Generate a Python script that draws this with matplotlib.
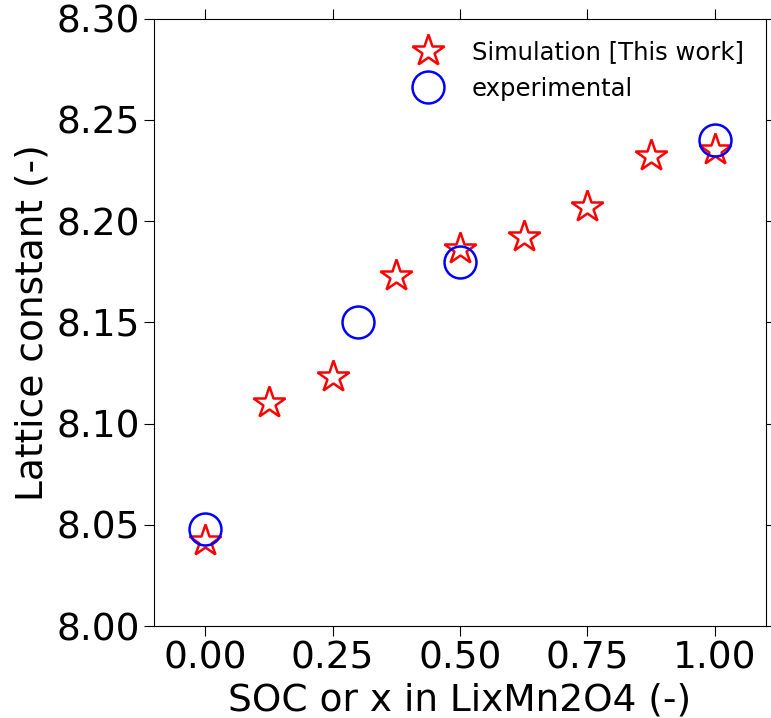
import numpy as np
import matplotlib
matplotlib.use("Agg")
from matplotlib import pyplot as plt

# simulation results
sim_x = [0.0, 0.125, 0.25, 0.375, 0.5, 0.625, 0.75, 0.875, 1.0]
sim_a = [8.042, 8.110, 8.123, 8.173, 8.186, 8.192, 8.207, 8.232, 8.235]
# experimental values
exp_x = [0.0, 0.3, 0.5, 1.0]
exp_a = [8.048, 8.150, 8.180, 8.240]

xticks = [0.0, 0.25, 0.5, 0.75, 1.0]
yticks = [8.00, 8.05, 8.10, 8.15, 8.20, 8.25, 8.30]

fig = plt.figure(figsize=(7.71, 7.18), dpi=100)
ax = fig.add_axes([0.2, 0.128, 0.793, 0.846])

ax.plot(sim_x, sim_a, linestyle='none', marker='*', markersize=24,
        markerfacecolor='none', markeredgecolor='red', markeredgewidth=1.8,
        label='Simulation [This work]')
ax.plot(exp_x, exp_a, linestyle='none', marker='o', markersize=23,
        markerfacecolor='none', markeredgecolor='blue', markeredgewidth=1.8,
        label='experimental')

ax.set_xlim(-0.1, 1.1)
ax.set_ylim(8.0, 8.3)
ax.set_xticks(xticks)
ax.set_yticks(yticks)
ax.xaxis.set_major_formatter(matplotlib.ticker.FormatStrFormatter('%.2f'))
ax.yaxis.set_major_formatter(matplotlib.ticker.FormatStrFormatter('%.2f'))
ax.tick_params(direction='out', length=7, labelsize=27, top=True, right=True)

ax.set_xlabel('SOC or x in LixMn2O4 (-)', fontsize=27)
ax.set_ylabel('Lattice constant (-)', fontsize=27)

ax.legend(loc='upper right', frameon=False, fontsize=17.5, numpoints=1,
          markerscale=1.0)

fig.savefig('out.png', dpi=100)
